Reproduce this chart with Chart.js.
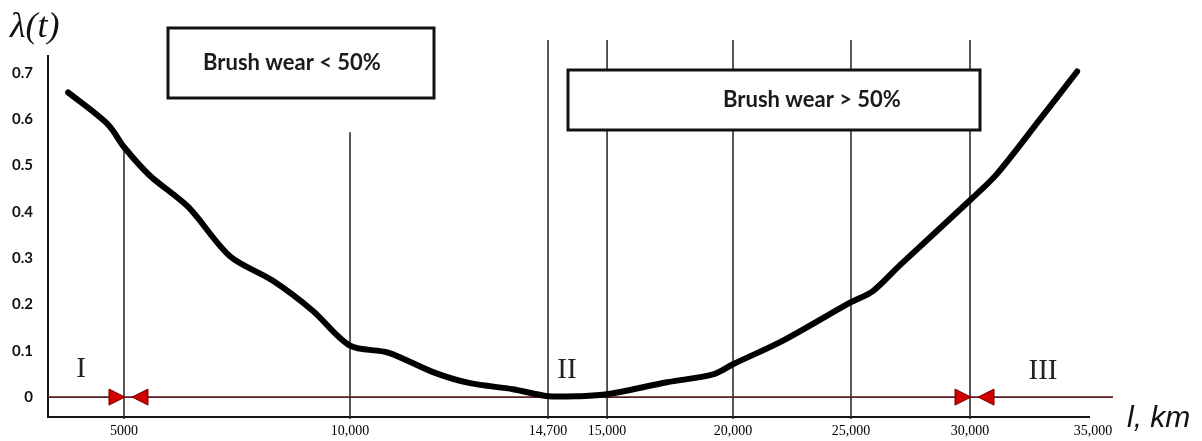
<!DOCTYPE html>
<html>
<head>
<meta charset="utf-8">
<script src="https://cdn.jsdelivr.net/npm/chart.js@4"></script>
<style>
  html, body { margin: 0; padding: 0; background: #fff; }
  #wrap { position: relative; width: 1202px; height: 441px; }
</style>
</head>
<body>
<div id="wrap"><canvas id="wearChart"></canvas></div>
<script>
// Curve: mileage (km) and failure rate lambda(t)
const mileageKm = [3750, 4640, 5000, 5575, 6416, 7345, 8296, 9181, 10000, 10902, 11970, 12850, 13870, 14700, 14863, 15000, 17382, 19208, 20000, 22120, 24960, 25924, 27058, 30000, 31099, 32849, 34355]
const failureRate = [0.658, 0.589, 0.540, 0.478, 0.411, 0.304, 0.251, 0.186, 0.111, 0.096, 0.054, 0.030, 0.017, 0.002, 0.002, 0.006, 0.032, 0.049, 0.071, 0.122, 0.204, 0.229, 0.285, 0.425, 0.482, 0.600, 0.703]

// Axis ticks
const xTicks = [5000, 10000, 14700, 15000, 20000, 25000, 30000, 35000]
const xTickLabels = ["5000", "10,000", "14,700", "15,000", "20,000", "25,000", "30,000", "35,000"]
const yTicks = [0, 0.1, 0.2, 0.3, 0.4, 0.5, 0.6, 0.7]
const yTickLabels = ["0", "0.1", "0.2", "0.3", "0.4", "0.5", "0.6", "0.7"]

// Vertical marker lines (km) and the lambda value where each one starts
const boundaryKm = [5000, 10000, 14700, 15000, 20000, 25000, 30000]
const boundaryTop = [0.54, 0.572, 0.771, 0.771, 0.771, 0.771, 0.771]

// Zone borders marked with red arrows, and zone names
const arrowKm = [5000, 30000]
const zoneNames = ["I", "II", "III"]
const boxTexts = ["Brush wear < 50%", "Brush wear > 50%"]

// ---- layout (not data) ----
// the x axis of the drawing is not to scale: km stops and where they sit (fraction of width)
const xStopsKm = [3300, 5000, 10000, 14700, 15000, 20000, 25000, 30000, 35000]
const xStopsFrac = [0, 0.0727, 0.289, 0.4785, 0.535, 0.6555, 0.7684, 0.8823, 1]

const boxes = [
  { x: 168, y: 28, w: 266, h: 70, textX: 203, textY: 63 },
  { x: 568, y: 70, w: 412, h: 60, textX: 723, textY: 100 },
]
const zonePos = [[81, 369], [567, 370], [1043, 371]]

function kmToFrac(v) {
  let i = 0
  while (i < xStopsKm.length - 2 && v > xStopsKm[i + 1]) i++
  const k0 = xStopsKm[i], k1 = xStopsKm[i + 1]
  const f0 = xStopsFrac[i], f1 = xStopsFrac[i + 1]
  return f0 + ((v - k0) / (k1 - k0)) * (f1 - f0)
}

function fracToKm(f) {
  let i = 0
  while (i < xStopsFrac.length - 2 && f > xStopsFrac[i + 1]) i++
  const k0 = xStopsKm[i], k1 = xStopsKm[i + 1]
  const f0 = xStopsFrac[i], f1 = xStopsFrac[i + 1]
  return k0 + ((f - f0) / (f1 - f0)) * (k1 - k0)
}

// Linear scale with a piecewise (schematic) mapping
class WarpScale extends Chart.LinearScale {
  getPixelForValue(value) {
    if (value === null || value === undefined || isNaN(value)) return NaN
    return this.left + kmToFrac(value) * this.width
  }
  getValueForPixel(pixel) {
    return fracToKm((pixel - this.left) / this.width)
  }
}
WarpScale.id = "warp"
WarpScale.defaults = Chart.LinearScale.defaults
Chart.register(WarpScale)

function triangle(ctx, tipX, baseX, cy, half) {
  ctx.beginPath()
  ctx.moveTo(tipX, cy)
  ctx.lineTo(baseX, cy - half)
  ctx.lineTo(baseX, cy + half)
  ctx.closePath()
  ctx.fill()
  ctx.stroke()
}

const diagramPlugin = {
  id: "diagram",
  beforeDatasetsDraw(chart) {
    const { ctx, chartArea: a } = chart
    const x = chart.scales.x
    const y = chart.scales.y
    ctx.save()

    // axes
    ctx.strokeStyle = "#151515"
    ctx.lineWidth = 2
    ctx.beginPath()
    ctx.moveTo(a.left, 55)
    ctx.lineTo(a.left, a.bottom)
    ctx.lineTo(a.right - 3, a.bottom)
    ctx.stroke()

    // vertical lines
    ctx.strokeStyle = "#222"
    ctx.lineWidth = 1.5
    ctx.beginPath()
    boundaryKm.forEach((km, i) => {
      const px = x.getPixelForValue(km)
      ctx.moveTo(px, y.getPixelForValue(boundaryTop[i]))
      ctx.lineTo(px, a.bottom + 2)
    })
    ctx.stroke()

    // zero line
    const y0 = y.getPixelForValue(0)
    ctx.strokeStyle = "#5a1e1e"
    ctx.lineWidth = 1.6
    ctx.beginPath()
    ctx.moveTo(a.left, y0)
    ctx.lineTo(a.right + 20, y0)
    ctx.stroke()
    ctx.restore()
  },
  afterDatasetsDraw(chart) {
    const { ctx } = chart
    const x = chart.scales.x
    const y = chart.scales.y
    const y0 = y.getPixelForValue(0)
    ctx.save()

    // red arrows at zone borders
    ctx.fillStyle = "#d10000"
    ctx.strokeStyle = "#700000"
    ctx.lineWidth = 1
    arrowKm.forEach((km) => {
      const px = x.getPixelForValue(km)
      triangle(ctx, px + 1, px - 15, y0, 8)
      triangle(ctx, px + 8, px + 24, y0, 8)
    })

    // boxes
    boxes.forEach((b, i) => {
      ctx.fillStyle = "#fff"
      ctx.fillRect(b.x, b.y, b.w, b.h)
      ctx.strokeStyle = "#111"
      ctx.lineWidth = 3
      ctx.strokeRect(b.x, b.y, b.w, b.h)
      ctx.fillStyle = "#1a1a1a"
      ctx.font = "bold 22px Lato, 'Open Sans', sans-serif"
      ctx.textAlign = "left"
      ctx.textBaseline = "middle"
      ctx.fillText(boxTexts[i], b.textX, b.textY)
    })

    // zone names
    ctx.fillStyle = "#222"
    ctx.font = "29px 'Liberation Serif', serif"
    ctx.textAlign = "center"
    ctx.textBaseline = "middle"
    zoneNames.forEach((n, i) => ctx.fillText(n, zonePos[i][0], zonePos[i][1]))

    // axis titles
    ctx.fillStyle = "#111"
    ctx.textAlign = "left"
    ctx.font = "italic 36px 'Liberation Serif', serif"
    ctx.fillText("\u03bb(t)", 10, 28)
    ctx.font = "italic 30px 'Liberation Sans', sans-serif"
    ctx.fillText("l, km", 1127, 419)
    ctx.restore()
  },
}

new Chart(document.getElementById("wearChart"), {
  type: "line",
  data: {
    datasets: [
      {
        data: mileageKm.map((km, i) => ({ x: km, y: failureRate[i] })),
        borderColor: "#000",
        borderWidth: 6,
        pointRadius: 0,
        tension: 0.3,
        borderCapStyle: "round",
        borderJoinStyle: "round",
        fill: false,
      },
    ],
  },
  options: {
    responsive: true,
    maintainAspectRatio: false,
    animation: false,
    layout: { padding: { left: 0, right: 109, top: 40, bottom: 0 } },
    plugins: { legend: { display: false }, tooltip: { enabled: false } },
    scales: {
      x: {
        type: "warp",
        min: 3300,
        max: 35000,
        grid: { display: false, drawTicks: false },
        border: { display: false },
        afterBuildTicks: (s) => {
          s.ticks = xTicks.map((v) => ({ value: v }))
        },
        afterFit: (s) => {
          s.height = 21
        },
        ticks: {
          autoSkip: false,
          maxRotation: 0,
          padding: 6,
          color: "#000",
          font: { family: "'Liberation Serif', serif", size: 14 },
          callback: (v, i) => xTickLabels[i],
        },
      },
      y: {
        min: -0.043,
        max: 0.771,
        grid: { display: false, drawTicks: false },
        border: { display: false },
        afterBuildTicks: (s) => {
          s.ticks = yTicks.map((v) => ({ value: v }))
        },
        afterFit: (s) => {
          s.width = 48
        },
        ticks: {
          padding: 15,
          color: "#111",
          font: { family: "Lato, 'Open Sans', sans-serif", weight: "bold", size: 15 },
          callback: (v, i) => yTickLabels[i],
        },
      },
    },
  },
  plugins: [diagramPlugin],
})
</script>
</body>
</html>
